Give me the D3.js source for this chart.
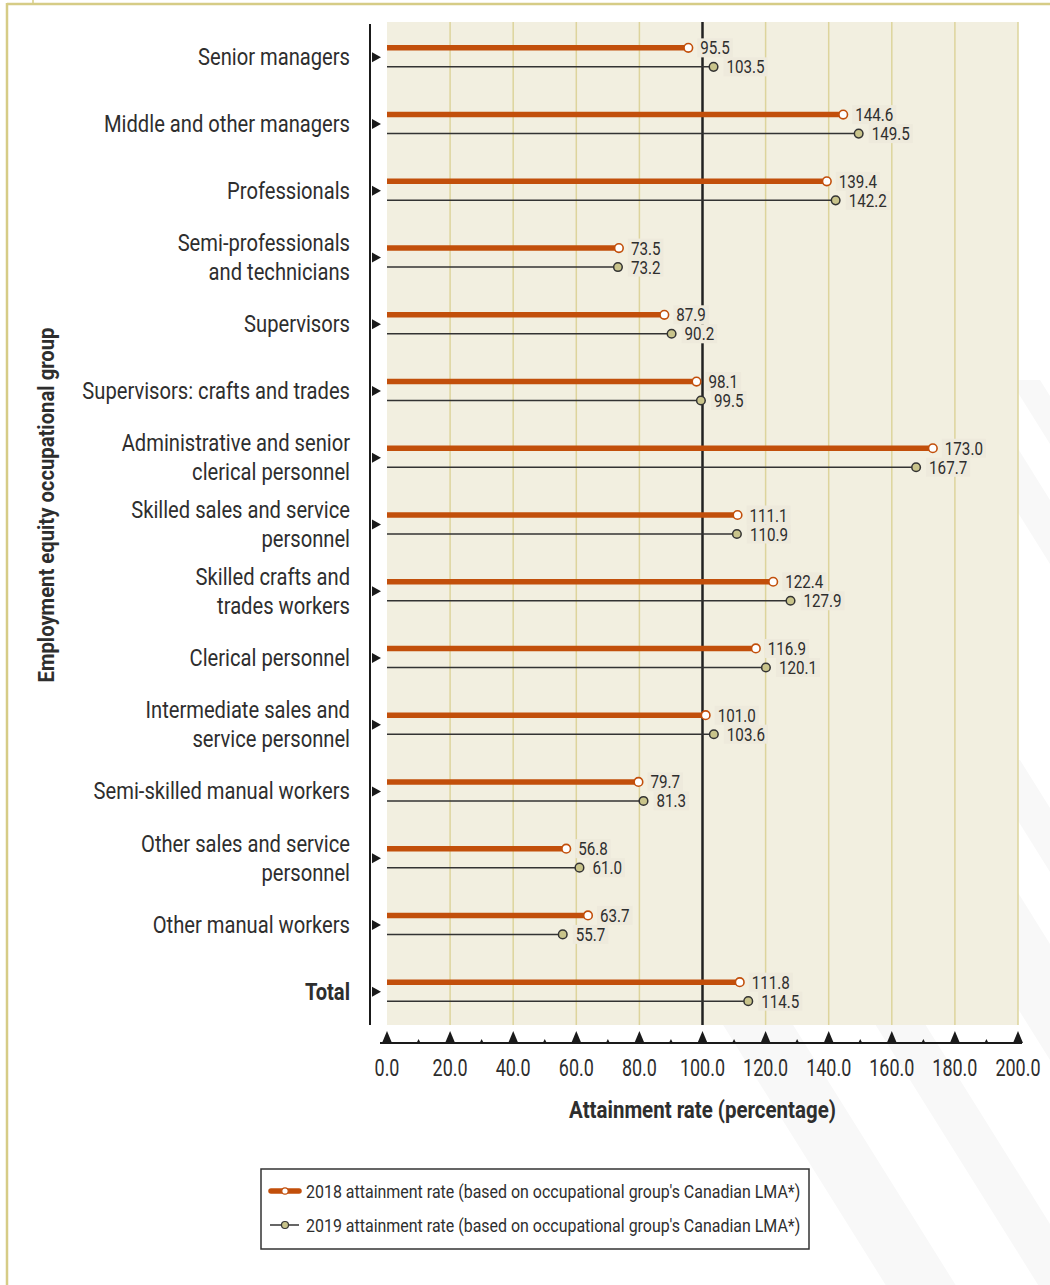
<!DOCTYPE html>
<html>
<head>
<meta charset="utf-8">
<script src="https://cdn.jsdelivr.net/npm/d3@7"></script>
<style>
  html, body { margin: 0; padding: 0; background: #ffffff; }
  svg { display: block; }
  text { font-family: Roboto, "DejaVu Sans Condensed", sans-serif; fill: #2e2e2e; }
</style>
</head>
<body>
<script>
// Occupational groups (multi-line labels split with "|")
const categories = [
  "Senior managers",
  "Middle and other managers",
  "Professionals",
  "Semi-professionals|and technicians",
  "Supervisors",
  "Supervisors: crafts and trades",
  "Administrative and senior|clerical personnel",
  "Skilled sales and service|personnel",
  "Skilled crafts and|trades workers",
  "Clerical personnel",
  "Intermediate sales and|service personnel",
  "Semi-skilled manual workers",
  "Other sales and service|personnel",
  "Other manual workers",
  "Total"
];
const rate2018 = [95.5, 144.6, 139.4, 73.5, 87.9, 98.1, 173.0, 111.1, 122.4, 116.9, 101.0, 79.7, 56.8, 63.7, 111.8];
const rate2019 = [103.5, 149.5, 142.2, 73.2, 90.2, 99.5, 167.7, 110.9, 127.9, 120.1, 103.6, 81.3, 61.0, 55.7, 114.5];
const majorTicks = [0, 20, 40, 60, 80, 100, 120, 140, 160, 180, 200];
const minorTicks = [10, 30, 50, 70, 90, 110, 130, 150, 170, 190];
const legendLabels = [
  "2018 attainment rate (based on occupational group's Canadian LMA*)",
  "2019 attainment rate (based on occupational group's Canadian LMA*)"
];

const W = 1050, H = 1285;
const svg = d3.select("body").append("svg").attr("width", W).attr("height", H);

// narrow the glyphs to get a condensed face
function condense(sel, k) {
  sel.each(function () {
    const n = this.getComputedTextLength();
    this.setAttribute("textLength", n * k);
    this.setAttribute("lengthAdjust", "spacingAndGlyphs");
  });
  return sel;
}

// faint diagonal stripes in the page background
const stripes = svg.append("g").attr("fill", "#f8f8f8");
[[960, 420, 40], [1010, 380, 30], [900, 800, 60], [980, 760, 40], [720, 1020, 70], [860, 1000, 50], [1000, 980, 40]].forEach(([x, y, w]) => {
  stripes.append("polygon")
    .attr("points", `${x},${y} ${x + w},${y} ${x + w + 400},${y + 640} ${x + 400},${y + 640}`);
});

// page frame
const frame = "#d6cc86";
svg.append("line").attr("x1", 7).attr("x2", W).attr("y1", 4).attr("y2", 4).attr("stroke", frame).attr("stroke-width", 2.5);
svg.append("line").attr("x1", 7).attr("x2", 7).attr("y1", 3).attr("y2", H).attr("stroke", frame).attr("stroke-width", 2.5);
svg.append("line").attr("x1", 33).attr("x2", 33).attr("y1", 0).attr("y2", 4).attr("stroke", frame).attr("stroke-width", 1.5);

const x = d3.scaleLinear().domain([0, 200]).range([387, 1018]);
const y = d3.scaleBand().domain(d3.range(categories.length)).range([24, 1025]);
const plotTop = 22, plotBottom = 1025;

// plot background
svg.append("rect").attr("x", x(0)).attr("y", plotTop)
  .attr("width", x(200) - x(0)).attr("height", plotBottom - plotTop)
  .attr("fill", "#f2efe0");

// vertical grid
svg.append("g").selectAll("line").data(majorTicks.filter(d => d > 0 && d !== 100)).join("line")
  .attr("x1", d => x(d)).attr("x2", d => x(d))
  .attr("y1", plotTop).attr("y2", plotBottom)
  .attr("stroke", "#ddd49c").attr("stroke-width", 1.5);

// 100% reference line
svg.append("line").attr("x1", x(100)).attr("x2", x(100))
  .attr("y1", plotTop).attr("y2", plotBottom)
  .attr("stroke", "#222").attr("stroke-width", 2.5);

// left axis
svg.append("line").attr("x1", 370).attr("x2", 370).attr("y1", 24).attr("y2", plotBottom)
  .attr("stroke", "#1a1a1a").attr("stroke-width", 2);
svg.append("g").selectAll("path").data(categories).join("path")
  .attr("d", (d, i) => {
    const cy = y(i) + y.bandwidth() / 2;
    return `M372,${cy - 5} L381,${cy} L372,${cy + 5} Z`;
  })
  .attr("fill", "#1a1a1a");

// category labels
const catG = svg.append("g");
categories.forEach((c, i) => {
  const cy = y(i) + y.bandwidth() / 2;
  const lines = c.split("|");
  lines.forEach((ln, k) => {
    const off = (k - (lines.length - 1) / 2) * 29;
    const t = catG.append("text")
      .attr("x", 350).attr("y", cy + off + 8).attr("text-anchor", "end")
      .attr("font-size", 24)
      .attr("font-weight", c === "Total" ? "bold" : "normal")
      .text(ln);
    condense(t, 0.84);
  });
});

const off = 9.5;
const rows = categories.map((c, i) => ({ i, a: rate2018[i], b: rate2019[i], cy: y(i) + y.bandwidth() / 2 }));

// 2019 series (thin dark line with olive dot)
const g19 = svg.append("g");
g19.selectAll("line").data(rows).join("line")
  .attr("x1", x(0)).attr("x2", d => x(d.b))
  .attr("y1", d => d.cy + off).attr("y2", d => d.cy + off)
  .attr("stroke", "#333").attr("stroke-width", 1.5);

// 2018 series (thick orange line with open dot)
const g18 = svg.append("g");
g18.selectAll("line").data(rows).join("line")
  .attr("x1", x(0)).attr("x2", d => x(d.a))
  .attr("y1", d => d.cy - off).attr("y2", d => d.cy - off)
  .attr("stroke", "#c24f0b").attr("stroke-width", 5.5);

// value labels with soft background boxes
const labG = svg.append("g");
function valueLabel(vx, vy, v) {
  const grp = labG.append("g");
  const bg = grp.append("rect").attr("fill", "#eeeadc");
  const t = grp.append("text").attr("x", vx).attr("y", vy + 6.5)
    .attr("font-size", 18.5).attr("fill", "#333").text(v.toFixed(1));
  condense(t, 0.82);
  const w = +t.attr("textLength");
  bg.attr("x", vx - 3).attr("y", vy - 9.5).attr("width", w + 6).attr("height", 19);
}
rows.forEach(d => {
  valueLabel(x(d.a) + 12, d.cy - off, d.a);
  valueLabel(x(d.b) + 13, d.cy + off, d.b);
});

g19.selectAll("circle").data(rows).join("circle")
  .attr("cx", d => x(d.b)).attr("cy", d => d.cy + off).attr("r", 4.3)
  .attr("fill", "#c9c48b").attr("stroke", "#333").attr("stroke-width", 1.5);
g18.selectAll("circle").data(rows).join("circle")
  .attr("cx", d => x(d.a)).attr("cy", d => d.cy - off).attr("r", 4.3)
  .attr("fill", "#fff").attr("stroke", "#c24f0b").attr("stroke-width", 1.6);
svg.node().appendChild(g19.node());
svg.node().appendChild(g18.node());

// bottom axis with triangle markers
const axY = 1043;
svg.append("line").attr("x1", x(0) - 7).attr("x2", x(200) + 4).attr("y1", axY).attr("y2", axY)
  .attr("stroke", "#1a1a1a").attr("stroke-width", 2);
svg.append("g").selectAll("path").data(majorTicks).join("path")
  .attr("d", d => `M${x(d) - 5},${axY} L${x(d)},${axY - 12} L${x(d) + 5},${axY} Z`)
  .attr("fill", "#1a1a1a");
svg.append("g").selectAll("path").data(minorTicks).join("path")
  .attr("d", d => `M${x(d) - 2},${axY} L${x(d)},${axY - 4} L${x(d) + 2},${axY} Z`)
  .attr("fill", "#1a1a1a");
condense(svg.append("g").selectAll("text").data(majorTicks).join("text")
  .attr("x", d => x(d)).attr("y", 1076).attr("text-anchor", "middle")
  .attr("font-size", 23).text(d => d.toFixed(1)), 0.78);

// axis titles
condense(svg.append("text").attr("x", x(100)).attr("y", 1118).attr("text-anchor", "middle")
  .attr("font-size", 23).attr("font-weight", "bold").attr("fill", "#1a1a1a")
  .text("Attainment rate (percentage)"), 0.89);
condense(svg.append("text").attr("transform", "translate(54,505) rotate(-90)")
  .attr("text-anchor", "middle").attr("font-size", 22).attr("font-weight", "bold").attr("fill", "#1a1a1a")
  .text("Employment equity occupational group"), 0.92);

// legend
const lg = svg.append("g");
lg.append("rect").attr("x", 261).attr("y", 1169).attr("width", 548).attr("height", 80)
  .attr("fill", "#fff").attr("stroke", "#333").attr("stroke-width", 1.5);
lg.append("line").attr("x1", 271).attr("x2", 299).attr("y1", 1191).attr("y2", 1191)
  .attr("stroke", "#c24f0b").attr("stroke-width", 5.5).attr("stroke-linecap", "round");
lg.append("circle").attr("cx", 285).attr("cy", 1191).attr("r", 3.2)
  .attr("fill", "#fff").attr("stroke", "#c24f0b").attr("stroke-width", 1.2);
lg.append("line").attr("x1", 270).attr("x2", 299).attr("y1", 1225).attr("y2", 1225)
  .attr("stroke", "#333").attr("stroke-width", 1.5);
lg.append("circle").attr("cx", 285).attr("cy", 1225).attr("r", 3.5)
  .attr("fill", "#c9c48b").attr("stroke", "#333").attr("stroke-width", 1.2);
condense(lg.selectAll("text.leg").data(legendLabels).join("text")
  .attr("class", "leg")
  .attr("x", 306).attr("y", (d, i) => 1198 + i * 34)
  .attr("font-size", 19).text(d => d), 0.84);
</script>
</body>
</html>
